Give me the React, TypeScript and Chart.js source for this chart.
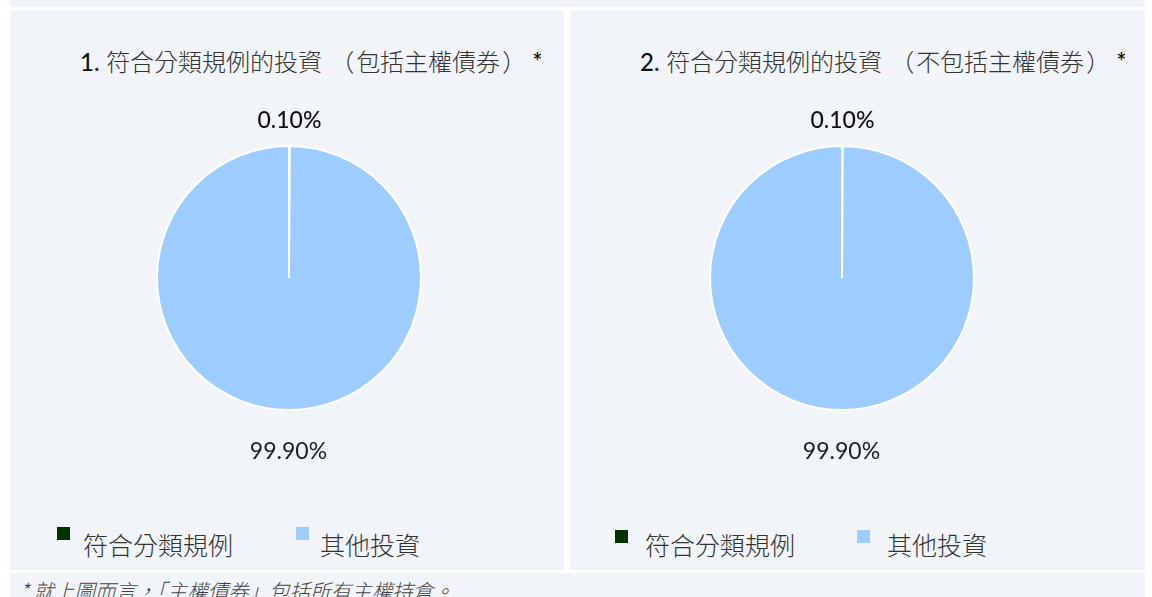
import React, { useEffect, useRef } from 'react';
import { Chart, registerables } from 'chart.js';

Chart.register(...registerables);

const categories = ['符合分類規例', '其他投資'];
const seriesInclSovereign = [0.1, 99.9];
const seriesExclSovereign = [0.1, 99.9];
const chartTitleParts = [
  ['符合分類規例的投資', '（', '包括主權債券', '）', '*'],
  ['符合分類規例的投資', '（', '不包括主權債券', '）', '*'],
];
const chartNumbers = ['1.', '2.'];
const footnote = '* 就上圖而言，「主權債券」包括所有主權持倉。';
const sliceColors = ['#003300', '#9dcdfe'];

const PANEL_BG = '#f1f4f9';
const LATIN_CJK = "Lato, 'Noto Sans CJK TC', sans-serif";

const pctLabels = {
  id: 'pctLabels',
  afterDatasetsDraw(chart: any, _args: any, opts: any) {
    const meta = chart.getDatasetMeta(0);
    const ds = chart.data.datasets[0];
    const ctx = chart.ctx;
    meta.data.forEach((arc: any, i: number) => {
      const p = arc.getProps(['x', 'y', 'startAngle', 'endAngle', 'outerRadius'], true);
      const mid = (p.startAngle + p.endAngle) / 2;
      const d = opts.distance[i];
      const lx = p.x + Math.cos(mid) * (p.outerRadius + d);
      const ly = p.y + Math.sin(mid) * (p.outerRadius + d);
      ctx.save();
      ctx.font = opts.fonts[i];
      ctx.fillStyle = opts.colors[i];
      ctx.textAlign = 'center';
      ctx.textBaseline = 'middle';
      ctx.fillText(Number(ds.data[i]).toFixed(2) + '%', lx, ly);
      ctx.restore();
    });
  },
};

function PieCanvas({ values }: { values: number[] }) {
  const ref = useRef<HTMLCanvasElement>(null);
  useEffect(() => {
    if (!ref.current) return;
    const chart = new Chart(ref.current, {
      type: 'pie',
      data: {
        labels: categories,
        datasets: [
          {
            data: values,
            backgroundColor: sliceColors,
            borderColor: '#ffffff',
            borderWidth: 2,
          },
        ],
      },
      options: {
        animation: false,
        responsive: false,
        maintainAspectRatio: false,
        layout: { padding: { top: 55, bottom: 59, left: 17, right: 17 } },
        plugins: {
          legend: { display: false },
          tooltip: { enabled: false },
          title: { display: false },
          pctLabels: {
            distance: [25, 42],
            fonts: ["500 23px " + LATIN_CJK, "400 23px " + LATIN_CJK],
            colors: ['#111111', '#222222'],
          },
        } as any,
      },
      plugins: [pctLabels],
    });
    return () => chart.destroy();
  }, [values]);
  return <canvas ref={ref} width={300} height={380} style={{ display: 'block', width: 300, height: 380 }} />;
}

function Panel({
  left,
  width,
  canvasLeft,
  num,
  titleParts,
  values,
  legendText,
  legendSquare,
  legendTop,
}: any) {
  return (
    <div
      style={{
        position: 'absolute',
        left,
        top: 10,
        width,
        height: 560,
        background: PANEL_BG,
      }}
    >
      <div
        style={{
          position: 'absolute',
          left: 70,
          top: 36,
          whiteSpace: 'nowrap',
          fontFamily: LATIN_CJK,
          fontSize: 24,
          fontWeight: 300,
          lineHeight: '32px',
          color: '#333',
        }}
      >
        <span style={{ color: '#111', fontWeight: 500 }}>{num}</span> {titleParts[0]}
        <span style={{ margin: '0 2px 0 8px' }}>{titleParts[1]}</span>
        {titleParts[2]}
        <span style={{ margin: '0 6px 0 2px' }}>{titleParts[3]}</span>
        <span style={{ color: '#111', fontWeight: 600 }}>{titleParts[4]}</span>
      </div>
      <div style={{ position: 'absolute', left: canvasLeft, top: 80 }}>
        <PieCanvas values={values} />
      </div>
      {categories.map((c, i) => (
        <React.Fragment key={c}>
          <div
            style={{
              position: 'absolute',
              left: legendSquare[i],
              top: legendTop,
              width: 13,
              height: 13,
              background: sliceColors[i],
            }}
          />
          <div
            style={{
              position: 'absolute',
              left: legendText[i],
              top: 518,
              whiteSpace: 'nowrap',
              fontFamily: "'Noto Sans CJK TC', sans-serif",
              fontWeight: 300,
              fontSize: 25,
              lineHeight: '32px',
              color: '#333',
            }}
          >
            {c}
          </div>
        </React.Fragment>
      ))}
    </div>
  );
}

export default function App() {
  useEffect(() => {
    document.body.style.margin = '0';
  }, []);
  return (
    <div
      style={{
        position: 'absolute',
        left: 0,
        top: 0,
        width: 1152,
        height: 597,
        background: '#ffffff',
        overflow: 'hidden',
      }}
    >
      <div style={{ position: 'absolute', left: 10, top: 0, width: 1135, height: 7, background: PANEL_BG }} />
      <Panel
        left={10}
        width={554}
        canvasLeft={129}
        num={chartNumbers[0]}
        titleParts={chartTitleParts[0]}
        values={seriesInclSovereign}
        legendSquare={[47, 286]}
        legendText={[73, 310]}
        legendTop={517}
      />
      <Panel
        left={570}
        width={575}
        canvasLeft={122}
        num={chartNumbers[1]}
        titleParts={chartTitleParts[1]}
        values={seriesExclSovereign}
        legendSquare={[45, 287]}
        legendText={[75, 317]}
        legendTop={520}
      />
      <div
        style={{
          position: 'absolute',
          left: 10,
          top: 573,
          width: 1135,
          height: 24,
          background: PANEL_BG,
          overflow: 'hidden',
        }}
      >
        <div
          style={{
            position: 'absolute',
            left: 10,
            top: 3,
            whiteSpace: 'nowrap',
            fontFamily: "'Noto Sans CJK TC', sans-serif",
            fontStyle: 'italic',
            fontWeight: 300,
            fontSize: 20.5,
            lineHeight: '28px',
            color: '#444',
          }}
        >
          {footnote}
        </div>
      </div>
    </div>
  );
}
